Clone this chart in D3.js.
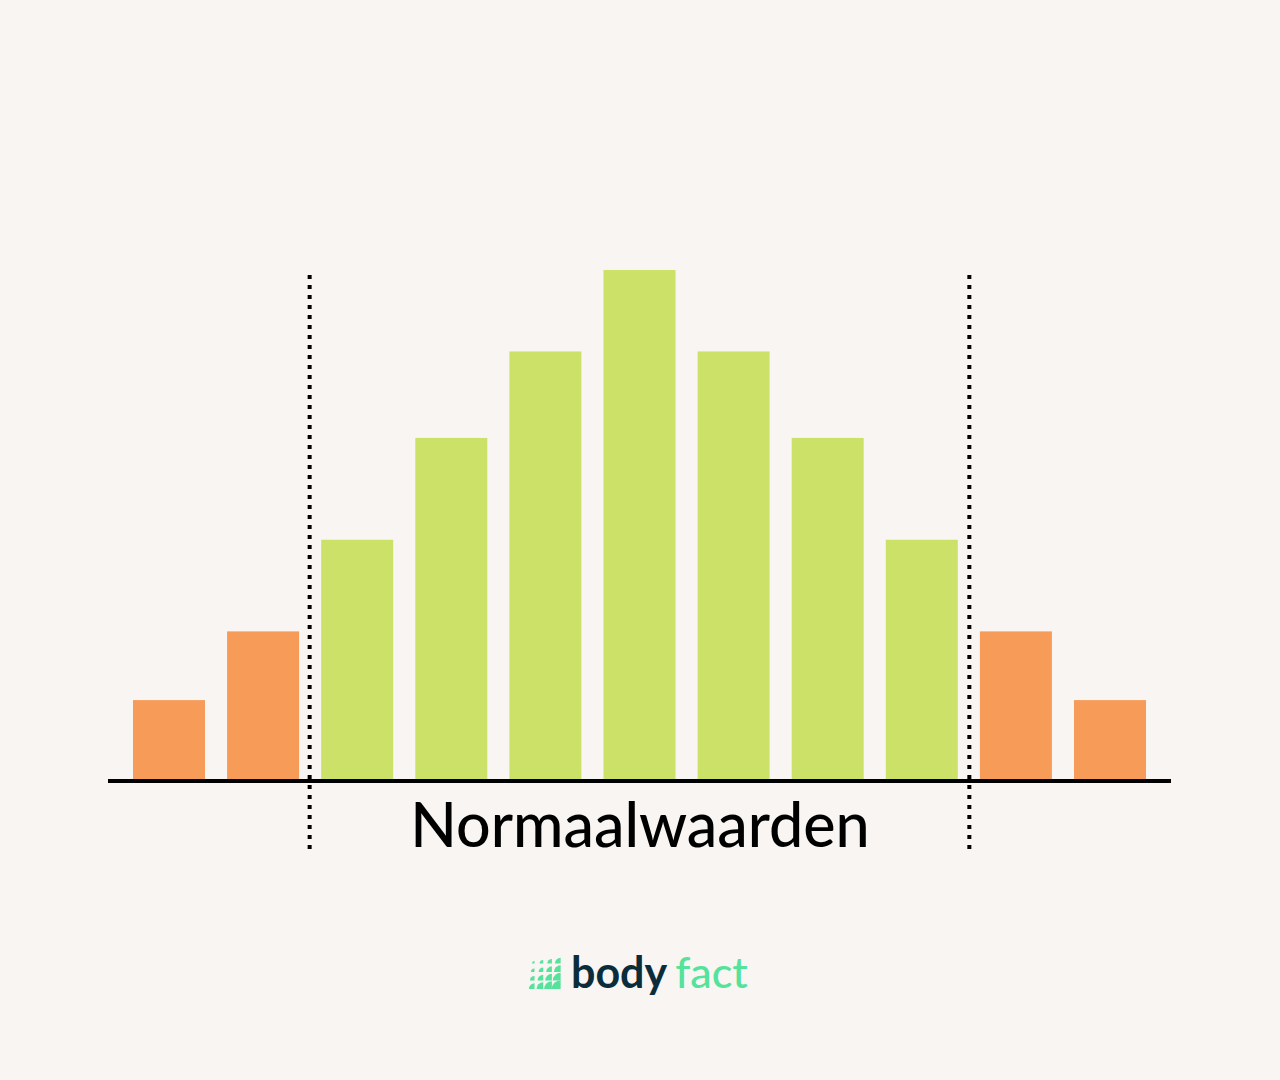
<!DOCTYPE html>
<html>
<head>
<meta charset="utf-8">
<script src="https://cdn.jsdelivr.net/npm/d3@7"></script>
<style>
  html, body { margin: 0; padding: 0; background: #f9f5f2; }
  svg { display: block; }
</style>
</head>
<body>
<svg id="chart" width="1280" height="1080"></svg>
<script>
// Data
const categories = ["1", "2", "3", "4", "5", "6", "7", "8", "9", "10", "11"];
const values = [1.55, 2.9, 4.7, 6.7, 8.4, 10, 8.4, 6.7, 4.7, 2.9, 1.55];
const zones = ["laag", "laag", "normaal", "normaal", "normaal", "normaal", "normaal", "normaal", "normaal", "hoog", "hoog"];
const normalStart = "3";
const normalEnd = "9";
const labelText = "Normaalwaarden";
const logoWords = ["body", "fact"];

const colors = { laag: "#f69b58", normaal: "#cbe168", hoog: "#f69b58" };

const svg = d3.select("#chart");
svg.append("rect").attr("width", 1280).attr("height", 1080).attr("fill", "#f9f5f2");

const x = d3.scaleBand().domain(categories).range([133, 1146]).paddingInner(0.235).paddingOuter(0);
const y = d3.scaleLinear().domain([0, 10]).range([779, 270]);

// Bars
svg.append("g").selectAll("rect").data(categories).join("rect")
  .attr("x", d => x(d))
  .attr("width", x.bandwidth())
  .attr("y", (d, i) => y(values[i]))
  .attr("height", (d, i) => y(0) - y(values[i]))
  .attr("fill", (d, i) => colors[zones[i]]);

// Baseline
svg.append("line")
  .attr("x1", 108).attr("x2", 1171)
  .attr("y1", 781).attr("y2", 781)
  .attr("stroke", "#000").attr("stroke-width", 4);

// Dotted separators
const gap = x.step() - x.bandwidth();
const sepX = [x(normalStart) - gap / 2 - 0.5, x(normalEnd) + x.bandwidth() + gap / 2 + 0.5];
svg.append("g").selectAll("line").data(sepX).join("line")
  .attr("x1", d => d).attr("x2", d => d)
  .attr("y1", 275).attr("y2", 850)
  .attr("stroke", "#000").attr("stroke-width", 4)
  .attr("stroke-dasharray", "4,6");

// Label
svg.append("text")
  .attr("x", 640).attr("y", 847)
  .attr("text-anchor", "middle")
  .attr("font-family", "Lato, 'Open Sans', sans-serif")
  .attr("font-weight", 500)
  .attr("font-size", 61)
  .attr("fill", "#000")
  .text(labelText);

// Logo icon: 4x4 grid of quarter circles growing toward bottom-right
const icon = svg.append("g").attr("transform", "translate(526,955)");
for (let r = 0; r < 4; r++) {
  for (let c = 0; c < 4; c++) {
    const s = 2.5 + (r + c) * 1.05;
    const cx = c * 8.7 + 8.5, cy = r * 8.5 + 8.5; // bottom-right anchor of cell
    icon.append("path")
      .attr("d", `M${cx},${cy} L${cx - s},${cy} A${s},${s} 0 0 1 ${cx},${cy - s} Z`)
      .attr("fill", "#55e29b");
  }
}

// Logo text
const logo = svg.append("text")
  .attr("x", 571).attr("y", 988)
  .attr("font-family", "Lato, 'Open Sans', sans-serif")
  .attr("font-weight", 700)
  .attr("font-size", 43);
logo.append("tspan").attr("fill", "#0b2d3b").text(logoWords[0]);
logo.append("tspan").attr("fill", "#55e29b").attr("font-weight", 500).attr("dx", 8).text(logoWords[1]);
</script>
</body>
</html>
